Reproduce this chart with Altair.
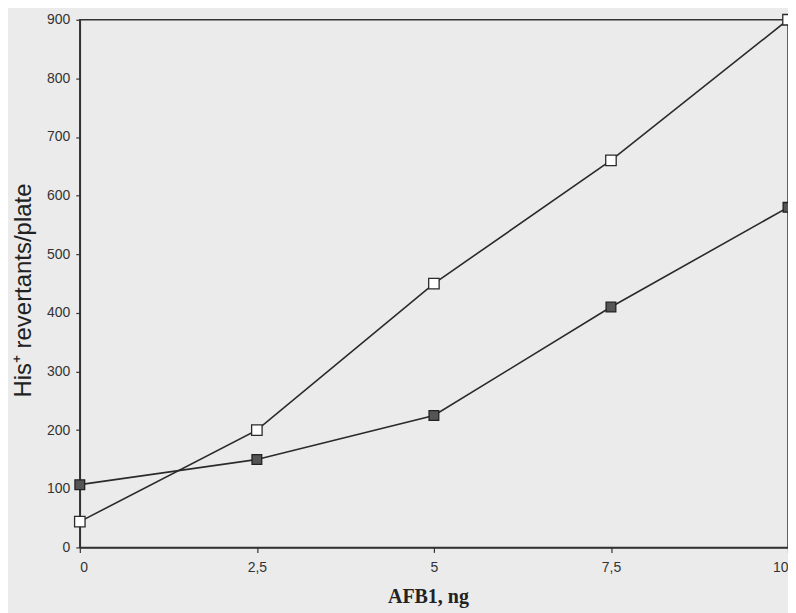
import altair as alt
import pandas as pd

doses = [0, 2.5, 5, 7.5, 10]
dose_labels = ["0", "2,5", "5", "7,5", "10"]
open_series = [44, 200, 450, 660, 900]
filled_series = [107, 150, 225, 410, 580]

rows = []
for d, v in zip(doses, open_series):
    rows.append({"dose": d, "value": v, "series": "open"})
for d, v in zip(doses, filled_series):
    rows.append({"dose": d, "value": v, "series": "filled"})
df = pd.DataFrame(rows)

label_expr = "datum.value == 2.5 ? '2,5' : datum.value == 7.5 ? '7,5' : datum.label"

x = alt.X("dose:Q",
          scale=alt.Scale(domain=[0, 10], nice=False, zero=False),
          axis=alt.Axis(values=doses, labelExpr=label_expr, title="AFB1, ng",
                        grid=False, tickSize=5, labelPadding=8,
                        labelFont="Liberation Sans", labelFontSize=14, labelColor="#333",
                        titleFont="Liberation Serif", titleFontSize=20, titleFontWeight="bold",
                        titleColor="#222", titleX=349, titleY=49,
                        titleBaseline="middle", titleAlign="center",
                        domainColor="#333", domainWidth=1.5, tickColor="#333", tickWidth=1.2))
y = alt.Y("value:Q",
          scale=alt.Scale(domain=[0, 900], nice=False),
          axis=alt.Axis(values=list(range(0, 901, 100)), title="His⁺ revertants/plate",
                        grid=False, tickSize=4, labelPadding=6,
                        labelFont="Liberation Sans", labelFontSize=14, labelColor="#333",
                        titleFont="Liberation Sans", titleFontSize=24, titleFontWeight="normal",
                        titleColor="#222", titleX=-56, titleY=271, titleAngle=-90,
                        titleBaseline="middle", titleAlign="center",
                        domainColor="#333", domainWidth=1.5, tickColor="#333", tickWidth=1.2))

base = alt.Chart(df)

lines = base.mark_line(color="#2a2a2a", strokeWidth=1.6).encode(
    x=x, y=y, detail="series:N"
)

open_pts = base.transform_filter(alt.datum.series == "open").mark_square(
    size=110, fill="#ffffff", stroke="#2a2a2a", strokeWidth=1.3, opacity=1
).encode(x=x, y=y)

filled_pts = base.transform_filter(alt.datum.series == "filled").mark_square(
    size=95, fill="#555555", stroke="#222222", strokeWidth=1.3, opacity=1
).encode(x=x, y=y)

chart = alt.layer(lines, open_pts, filled_pts).properties(
    width=710, height=529,
    autosize=alt.AutoSizeParams(type="none"),
    padding={"left": 72, "top": 11, "right": 0, "bottom": 66},
    background="#ebebeb",
).configure_view(stroke="#333333", strokeWidth=1.5)

chart.save("out.html", embed_options={"renderer": "svg", "actions": False})
